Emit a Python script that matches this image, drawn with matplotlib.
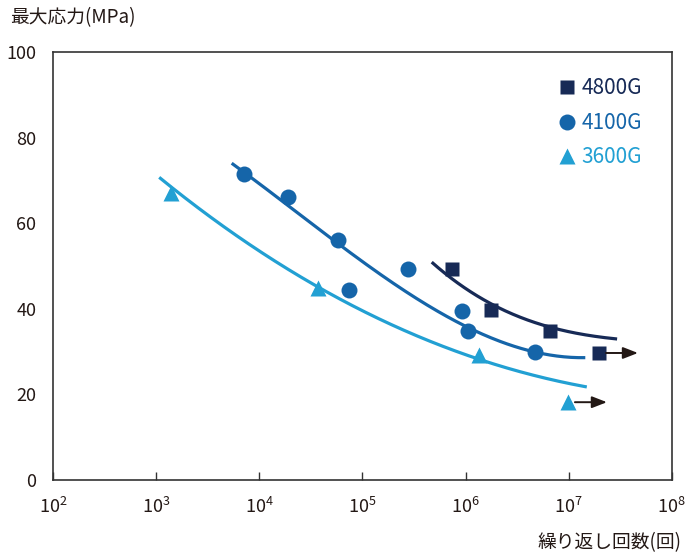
import matplotlib
matplotlib.use("Agg")
import matplotlib.pyplot as plt
import matplotlib.ticker as mticker
import numpy as np

plt.rcParams['font.family'] = ['Noto Sans CJK JP', 'DejaVu Sans']

series = ["4800G", "4100G", "3600G"]
colors = {"4800G": "#172a56", "4100G": "#1565a9", "3600G": "#22a0d3"}
markers = {"4800G": "s", "4100G": "o", "3600G": "^"}
msizes = {"4800G": 9.5, "4100G": 11.5, "3600G": 12}

# data points (cycles, stress MPa)
pts_4800_x = [7.4e5, 1.75e6, 6.6e6, 1.95e7]
pts_4800_y = [49.3, 39.7, 34.8, 29.7]
pts_4100_x = [7.1e3, 1.9e4, 5.75e4, 7.4e4, 2.75e5, 9.3e5, 1.05e6, 4.7e6]
pts_4100_y = [71.5, 66.1, 56.1, 44.4, 49.3, 39.5, 34.8, 29.9]
pts_3600_x = [1.38e3, 3.7e4, 1.35e6, 9.8e6]
pts_3600_y = [67.0, 45.0, 29.2, 18.2]

# fitted curves
cur_4800_x = [4.7e5, 1.0e6, 1.7e6, 3.0e6, 6.2e6, 1.2e7, 2.95e7]
cur_4800_y = [50.7, 45.6, 40.9, 38.2, 36.2, 34.4, 32.9]
cur_4100_x = [5.4e3, 1.9e4, 5.6e4, 1.86e5, 3.6e5, 1.17e6, 4.5e6, 1.45e7]
cur_4100_y = [73.8, 64.7, 55.6, 46.0, 41.8, 35.3, 30.4, 28.4]
cur_3600_x = [1.07e3, 3.1e3, 1.07e4, 3.6e4, 8.9e4, 3.6e5, 1.38e6, 4.5e6, 1.5e7]
cur_3600_y = [70.6, 62.4, 53.0, 45.1, 40.4, 33.2, 28.3, 24.6, 21.7]

# run-out arrows (start x, end x, y)
arrow_4800 = (2.3e7, 4.7e7, 29.7)
arrow_3600 = (1.15e7, 2.35e7, 18.2)

xtick_vals = [1e2, 1e3, 1e4, 1e5, 1e6, 1e7, 1e8]
ytick_vals = [0, 20, 40, 60, 80, 100]

fig = plt.figure(figsize=(6.89, 5.55), dpi=100)
ax = fig.add_axes([0.077, 0.135, 0.898, 0.771])

def smooth(xs, ys):
    lx = np.log10(xs)
    c = np.polyfit(lx, ys, 3)
    xx = np.linspace(lx[0], lx[-1], 200)
    return 10 ** xx, np.polyval(c, xx)

for name, cx, cy in [("4800G", cur_4800_x, cur_4800_y),
                     ("4100G", cur_4100_x, cur_4100_y),
                     ("3600G", cur_3600_x, cur_3600_y)]:
    sx, sy = smooth(cx, cy)
    ax.plot(sx, sy, color=colors[name], lw=2.3, solid_capstyle='butt', zorder=2)

for name, px, py in [("4800G", pts_4800_x, pts_4800_y),
                     ("4100G", pts_4100_x, pts_4100_y),
                     ("3600G", pts_3600_x, pts_3600_y)]:
    ax.plot(px, py, linestyle='none', marker=markers[name], ms=msizes[name],
            color=colors[name], mec='none', label=name, zorder=3)

for x0, x1, y in [arrow_4800, arrow_3600]:
    ax.annotate("", xy=(x1, y), xytext=(x0, y),
                arrowprops=dict(arrowstyle="-|>,head_length=0.9,head_width=0.35",
                                color="#231815", lw=1.4, shrinkA=0, shrinkB=0))

ax.set_xscale('log')
ax.set_xlim(1e2, 1e8)
ax.set_ylim(0, 100)
ax.set_xticks(xtick_vals)
ax.xaxis.set_minor_locator(mticker.NullLocator())
ax.set_xticklabels([r"$\mathregular{10^{%d}}$" % round(np.log10(v)) for v in xtick_vals])
ax.set_yticks(ytick_vals)
ax.tick_params(axis='x', direction='in', length=6, width=1, color='#333333',
               labelsize=13, pad=12, labelcolor='#231815')
ax.tick_params(axis='y', length=0, labelsize=13, pad=12, labelcolor='#231815')
for s in ax.spines.values():
    s.set_color('#333333')
    s.set_linewidth(1.2)

leg = ax.legend(loc='upper right', bbox_to_anchor=(0.975, 0.975), frameon=False,
                handletextpad=0.05, handlelength=1.3, fontsize=15,
                labelspacing=0.6, borderaxespad=0.3, markerscale=1.0)
for t, name in zip(leg.get_texts(), series):
    t.set_color(colors[name])

fig.text(10 / 689, 1 - 18 / 555, "最大応力(MPa)", fontsize=13.5, color='#231815',
         va='center', ha='left')
fig.text(682 / 689, 1 - 543 / 555, "繰り返し回数(回)", fontsize=13.5, color='#231815',
         va='center', ha='right')

fig.savefig("out.png", dpi=100)
